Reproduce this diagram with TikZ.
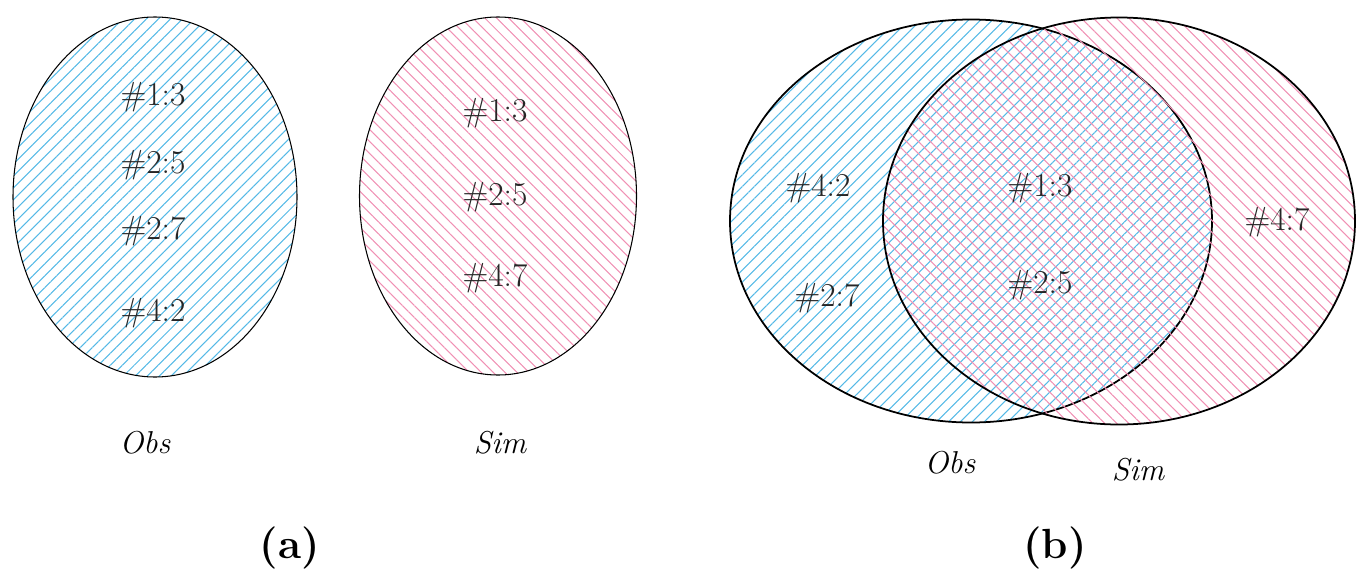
\documentclass[tikz,border=0pt]{standalone}
\usepackage{xcolor}
\usepackage{tikz}
\usetikzlibrary{shapes.geometric, patterns.meta}
\definecolor{obsblue}{RGB}{85, 185, 230}
\definecolor{simpink}{RGB}{240, 145, 180}

\begin{document}
\begin{tikzpicture}[
  obsset/.style={ellipse, draw, inner sep=0pt,
                 pattern={Lines[angle=45, distance=4.8pt, line width=0.6pt]},
                 pattern color=obsblue},
  simset/.style={ellipse, draw, inner sep=0pt,
                 pattern={Lines[angle=-45, distance=4.8pt, line width=0.6pt]},
                 pattern color=simpink},
  elem/.style={font=\fontsize{19}{22}\selectfont, text=black!85},
  setname/.style={font=\fontsize{18}{21}\selectfont\itshape},
  panel/.style={font=\fontsize{24}{28}\selectfont\bfseries}
]
\useasboundingbox (0,0) rectangle (27.16,-11.66);

% (a) the two sets on their own
\node[obsset, line width=0.6pt, minimum width=5.68cm, minimum height=7.2cm] (obsA) at (3.10,-3.94) {};
\node[simset, line width=0.6pt, minimum width=5.54cm, minimum height=7.16cm] (simA) at (9.96,-3.92) {};

\node[elem] (oa1) at (3.06,-1.94) {\#1:3};
\node[elem] (oa2) at (3.06,-3.30) {\#2:5};
\node[elem] (oa3) at (3.06,-4.62) {\#2:7};
\node[elem] (oa4) at (3.06,-6.26) {\#4:2};

\node[elem] (sa1) at (9.90,-2.26) {\#1:3};
\node[elem] (sa2) at (9.90,-3.94) {\#2:5};
\node[elem] (sa3) at (9.90,-5.56) {\#4:7};

\node[setname] (obsAname) at (2.90,-8.86) {Obs};
\node[setname] (simAname) at (10.00,-8.86) {Sim};

% (b) overlap of the sets
\node[obsset, line width=1pt, minimum width=9.64cm, minimum height=8.06cm] (obsB) at (19.42,-4.42) {};
\node[simset, line width=1pt, minimum width=9.44cm, minimum height=8.14cm] (simB) at (22.38,-4.42) {};

\node[elem] (ob1) at (16.36,-3.76) {\#4:2};
\node[elem] (ob2) at (16.54,-5.96) {\#2:7};
\node[elem] (both1) at (20.80,-3.76) {\#1:3};
\node[elem] (both2) at (20.80,-5.70) {\#2:5};
\node[elem] (sb1) at (25.54,-4.44) {\#4:7};

\node[setname] (obsBname) at (19.00,-9.26) {Obs};
\node[setname] (simBname) at (22.76,-9.40) {Sim};

% panel labels
\node[panel] (pa) at (5.80,-10.96) {(a)};
\node[panel] (pb) at (21.10,-10.96) {(b)};

\end{tikzpicture}
\end{document}
